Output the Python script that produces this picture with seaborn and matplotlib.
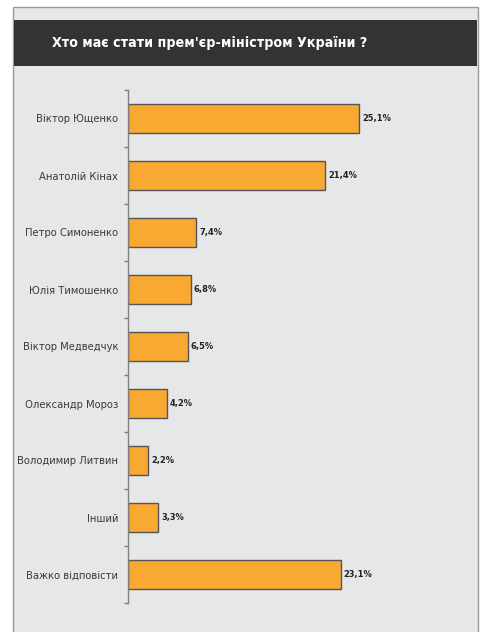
import matplotlib
matplotlib.use("Agg")
import matplotlib.pyplot as plt
from matplotlib import font_manager as fm
from matplotlib.patches import Rectangle
import seaborn as sns
import pandas as pd
import numpy as np

title = "Хто має стати прем'єр-міністром України ?"
names = ["Віктор Ющенко", "Анатолій Кінах", "Петро Симоненко", "Юлія Тимошенко",
         "Віктор Медведчук", "Олександр Мороз", "Володимир Литвин", "Інший",
         "Важко відповісти"]
values = [25.1, 21.4, 7.4, 6.8, 6.5, 4.2, 2.2, 3.3, 23.1]
value_labels = ["25,1%", "21,4%", "7,4%", "6,8%", "6,5%", "4,2%", "2,2%", "3,3%", "23,1%"]

sns.set_theme(style="white")
avail = {f.name for f in fm.fontManager.ttflist}
if "Liberation Sans Narrow" in avail:
    FAM = ["Liberation Sans Narrow", "DejaVu Sans"]
    STRETCH = "normal"
else:
    FAM = ["DejaVu Sans"]
    STRETCH = "condensed"
plt.rcParams["font.family"] = FAM

W, H = 484, 632
fig = plt.figure(figsize=(W / 100, H / 100), dpi=100)
fig.patch.set_facecolor("white")

def fx(px):
    return px / W

def fy(py):
    return 1 - py / H

# outer panel
fig.patches.append(Rectangle((fx(13), fy(640)), fx(478) - fx(13), fy(7) - fy(640),
                             transform=fig.transFigure, facecolor="#e6e7e8",
                             edgecolor="#9a9a9a", linewidth=1.0, zorder=-3))
# dark header
fig.patches.append(Rectangle((fx(13.5), fy(66)), fx(477.5) - fx(13.5), fy(20) - fy(66),
                             transform=fig.transFigure, facecolor="#333333",
                             edgecolor="none", zorder=-2))
ttl = fig.text(fx(367), fy(43), title, ha="right", va="center", color="white",
               fontsize=13.5, fontweight="bold", fontstretch=STRETCH, zorder=3)

ax = fig.add_axes([fx(128), fy(603), fx(475) - fx(128), fy(90) - fy(603)])
ax.set_facecolor("none")
ax.set_zorder(1)

df = pd.DataFrame({"name": names, "value": values})
sns.barplot(data=df, x="value", y="name", orient="h", color="#f9a932",
            saturation=1, edgecolor="#555555", linewidth=1.0, width=0.5, ax=ax)

ax.set_xlim(0, (475 - 128) / 9.22)
ax.set_ylim(len(names) - 0.5, -0.5)
ax.set_xlabel("")
ax.set_ylabel("")
ax.set_xticks([])
for s in ["top", "right", "bottom"]:
    ax.spines[s].set_visible(False)
ax.spines["left"].set_color("#7f7f7f")
ax.spines["left"].set_linewidth(1.0)

ax.tick_params(axis="y", which="major", length=0, pad=7)
ax.set_yticks(np.arange(-0.5, len(names) + 0.5, 1.0), minor=True)
ax.tick_params(axis="y", which="minor", left=True, length=3, width=1.0,
               color="#7f7f7f", direction="out")
for lab in ax.get_yticklabels():
    lab.set_fontsize(10.5)
    lab.set_color("#3a3a3a")
    lab.set_fontstretch(STRETCH)

vals = []
for i, (v, t) in enumerate(zip(values, value_labels)):
    vals.append(ax.annotate(t, (v, i), xytext=(2, 0), textcoords="offset points",
                            ha="left", va="center", fontsize=10, fontweight="bold",
                            color="#222222", fontstretch=STRETCH))

# fit text widths (compromise between reference width and glyph height)
fig.canvas.draw()
r = fig.canvas.get_renderer()
def fit(t, target):
    w = t.get_window_extent(r).width
    t.set_fontsize(t.get_fontsize() * target / w)
fit(ttl, 315)
labs = ax.get_yticklabels()
w0 = labs[0].get_window_extent(r).width
scale = 83 / w0
for lab in labs:
    lab.set_fontsize(lab.get_fontsize() * scale)
w1 = vals[0].get_window_extent(r).width
scale2 = 29 / w1
for t in vals:
    t.set_fontsize(t.get_fontsize() * scale2)

fig.savefig("out.png", dpi=100, facecolor="white")
